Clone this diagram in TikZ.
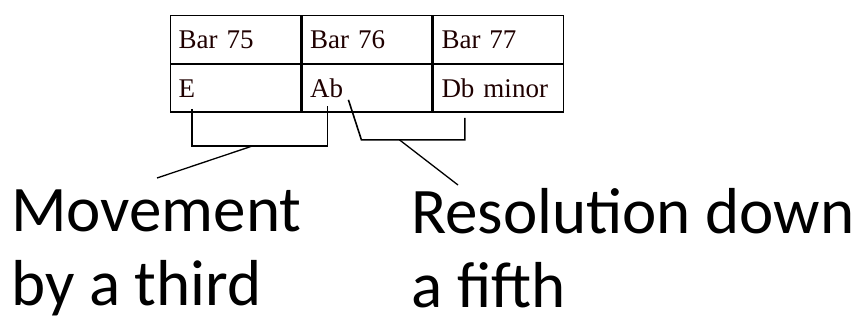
\documentclass[tikz,border=0pt]{standalone}
\usepackage{fontspec}
\setmainfont{Liberation Serif}
\newfontfamily\labelfont{Carlito}
\usepackage{tikz}
\usetikzlibrary{calc}

\begin{document}
\begin{tikzpicture} [
    x=1pt, y=-1pt,
    cell/.style = {draw, line width=1.4pt, anchor=north west, minimum height=47.5pt,
        inner xsep=8pt, inner ysep=0pt, text width=114pt, align=left,
        text=black!88!red, font=\fontsize{27}{30}\selectfont},
    bracket/.style = {line width=1.6pt},
    pointer/.style = {line width=1.3pt},
    caption/.style = {anchor=base west, inner sep=0pt, align=left,
        font=\labelfont\fontsize{65}{74}\selectfont}
]
    \useasboundingbox (0,0) rectangle (865,322);

    \node[cell] (bar75) at (170,15) {Bar 75};
    \node[cell] (bar76) at (bar75.north east) {Bar 76};
    \node[cell] (bar77) at (bar76.north east) {Bar 77};
    \node[cell] (chordE) at (bar75.south west) {E};
    \node[cell] (chordAb) at (bar76.south west) {Ab};
    \node[cell] (chordDb) at (bar77.south west) {Db minor};

    \node[caption] (movement) at (11,305) {Movement\\by a third};
    \node[caption] (resolution) at (411,307) {Resolution down\\a fifth};

    \coordinate (tickE) at ($(chordE.south west)+(22,-4)$);
    \coordinate (tickAbL) at ($(chordAb.south west)+(26,-7)$);
    \coordinate (tickAbR) at ($(chordAb.south west)+(47,-13)$);
    \coordinate (tickDb) at ($(chordDb.south west)+(32,5)$);
    \coordinate (footL) at ($(tickE)+(61,37)$);
    \coordinate (footR) at ($(tickAbR)+(51,40)$);

    \draw[bracket] (tickE) -- ++(0,37) -| (tickAbL);
    \draw[bracket] (tickAbR) -- ++(13,40) -| (tickDb);
    \draw[pointer] (footL) -- (157,178);
    \draw[pointer] (footR) -- (458,185);
\end{tikzpicture}
\end{document}
